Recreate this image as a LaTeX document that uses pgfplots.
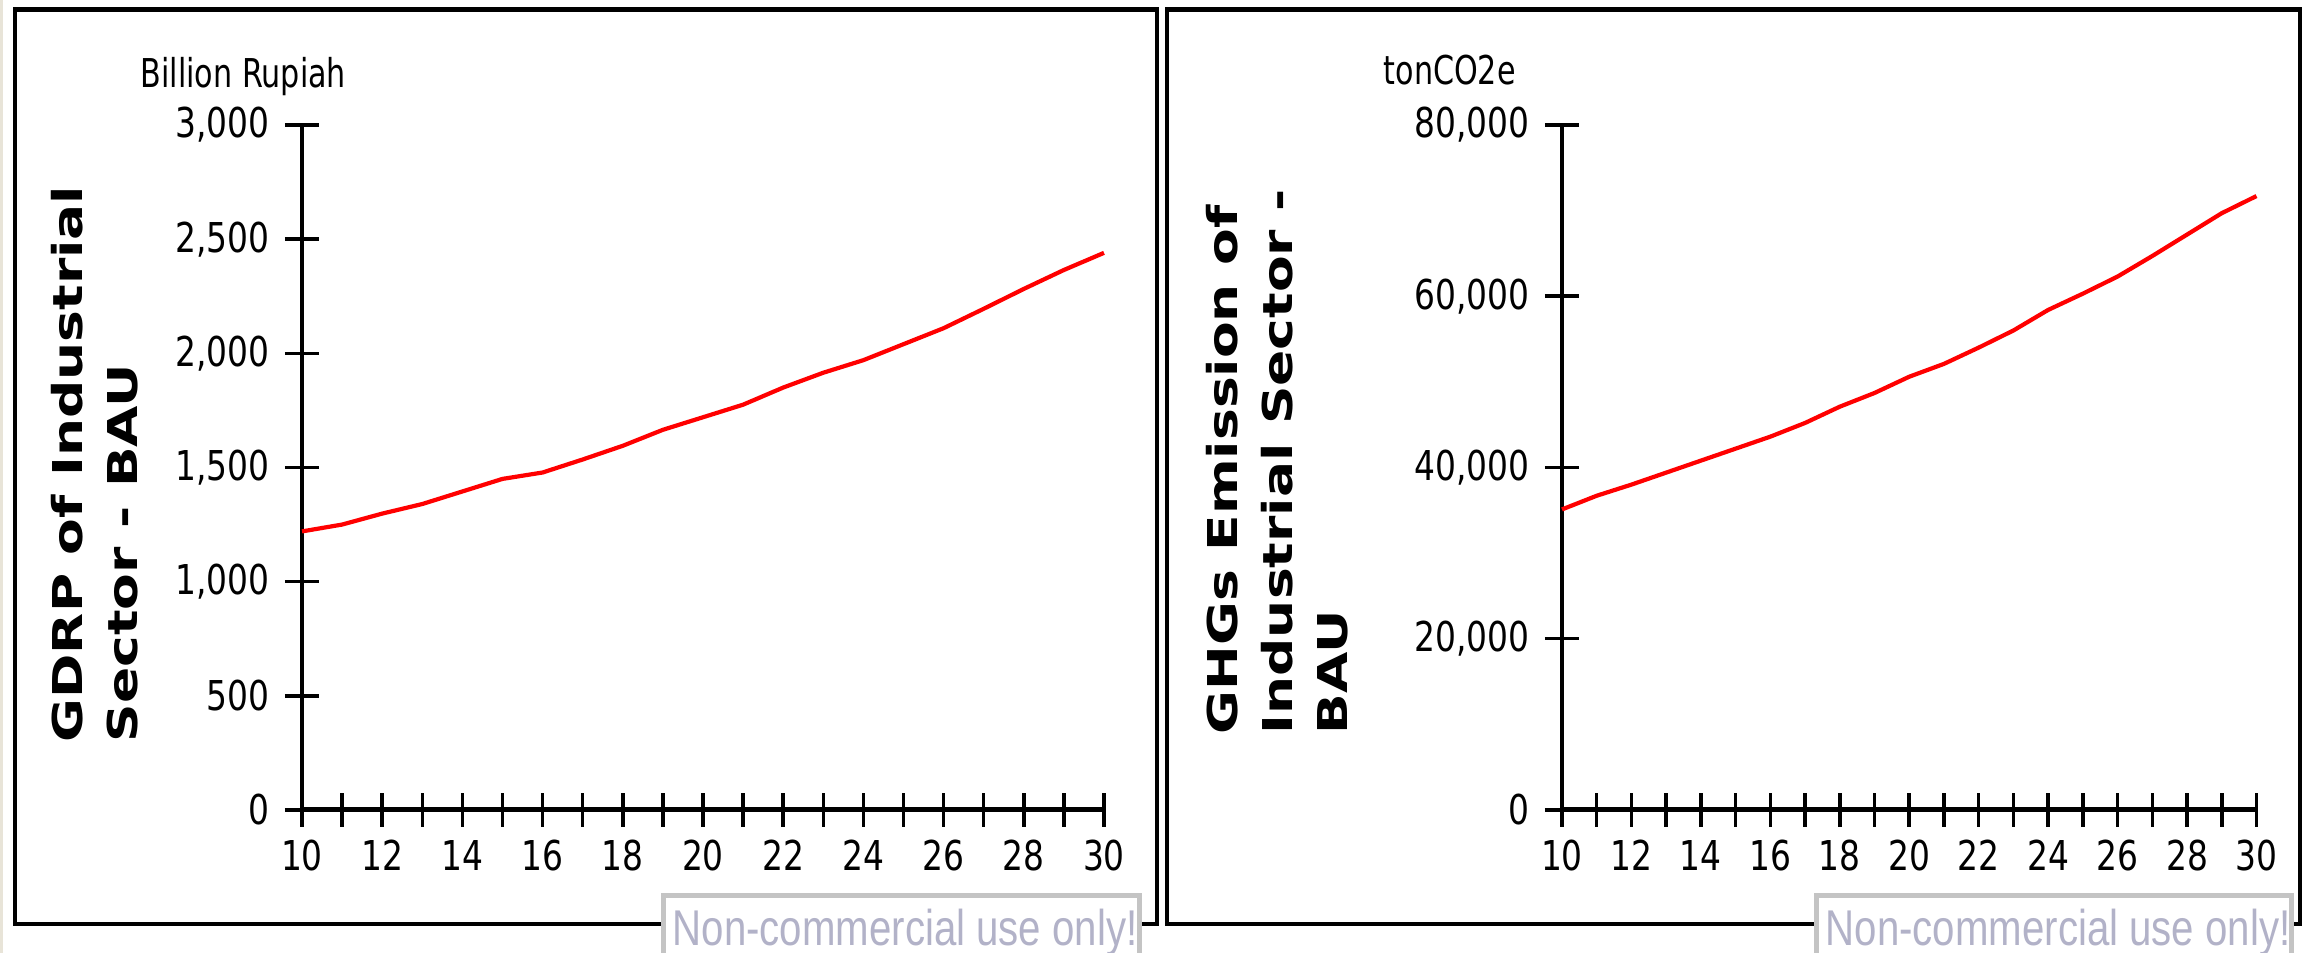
\documentclass[border=0pt]{standalone}
\usepackage{fontspec}
\setmainfont{DejaVu Sans}
\newfontfamily\tickfont[FakeStretch=0.8]{DejaVu Sans}
\newfontfamily\unitfont[FakeStretch=0.76]{DejaVu Sans}
\newfontfamily\narrowfont[FakeStretch=0.8]{Liberation Sans}
\newfontfamily\labfont[FakeStretch=1.3]{DejaVu Sans}
\usepackage{pgfplots}
\pgfplotsset{compat=1.18}
\usepackage{pgfplotstable}

\pgfplotstableread{
year gdrp
10 1220
11 1250
12 1298
13 1340
14 1395
15 1450
16 1478
17 1535
18 1595
19 1665
20 1720
21 1775
22 1850
23 1915
24 1970
25 2040
26 2110
27 2195
28 2282
29 2365
30 2440
}\gdrptable

\pgfplotstableread{
year ghg
10 35100
11 36700
12 38000
13 39400
14 40800
15 42200
16 43600
17 45200
18 47100
19 48700
20 50600
21 52100
22 54000
23 56000
24 58400
25 60300
26 62300
27 64700
28 67200
29 69700
30 71700
}\ghgtable

\definecolor{stripbg}{RGB}{232,228,216}
\definecolor{wmtext}{RGB}{178,178,200}
\definecolor{wmbox}{RGB}{196,196,196}

\pgfplotsset{
  panelaxis/.style={
    scale only axis,
    anchor=south west,
    axis x line=bottom,
    axis y line=left,
    axis line style={-},
    x axis line style={line width=0.5mm},
    y axis line style={line width=0.4mm},
    xmin=10, xmax=30, ymin=0,
    enlargelimits=false,
    clip=false,
    xtick={10,12,...,30},
    minor xtick={11,13,...,29},
    tick align=center,
    major tick length=3.4mm,
    minor tick length=3.4mm,
    every tick/.style={black, line width=0.35mm},
    tick label style={font=\tickfont\fontsize{11.7}{14}\selectfont, text=black},
    /pgf/number format/assume math mode=true,
    /pgf/number format/1000 sep={,},
    yticklabel style={xshift=-0.3mm},
    xticklabel style={yshift=-0.1mm},
    scaled y ticks=false,
  }
}

\begin{document}
\begin{tikzpicture}
\begin{scope}[x=0.1mm,y=0.1mm]
\useasboundingbox (0,0) rectangle (2306,953);
\fill[white] (0,0) rectangle (2306,953);
\fill[stripbg] (0,0) rectangle (3,953);
\draw[black, line width=0.44mm] (15,29) rectangle (1157,943.5);
\draw[black, line width=0.44mm] (1167,29) rectangle (2300,943.5);
\end{scope}

% left panel
\begin{axis}[panelaxis,
  at={(30.2mm,14.3mm)},
  width=80.2mm, height=68.5mm,
  ymax=3000, ytick={0,500,...,3000}]
\addplot[red, line width=0.42mm] table[x=year, y=gdrp] {\gdrptable};
\end{axis}

% right panel
\begin{axis}[panelaxis,
  at={(156.2mm,14.3mm)},
  width=69.45mm, height=68.5mm,
  ymax=80000, ytick={0,20000,...,80000}]
\addplot[red, line width=0.42mm] table[x=year, y=ghg] {\ghgtable};
\end{axis}

\begin{scope}[x=0.1mm,y=0.1mm]
% unit labels
\node[anchor=base west, inner sep=0, font=\unitfont\fontsize{11.3}{14}\selectfont] at (140,865) {Billion Rupiah};
\node[anchor=base west, inner sep=0, font=\unitfont\fontsize{11.3}{14}\selectfont] at (1383,868) {tonCO2e};
% axis titles (anchor = baseline of the last line)
\node[rotate=90, anchor=base west, inner sep=0, align=left,
  font=\labfont\bfseries\fontsize{11.7}{15.6}\selectfont] at (137,210)
  {GDRP of Industrial\\Sector - BAU};
\node[rotate=90, anchor=base west, inner sep=0, align=left,
  font=\labfont\bfseries\fontsize{11.7}{15.6}\selectfont] at (1347,218)
  {GHGs Emission of\\Industrial Sector -\\BAU};
% watermark boxes
\begin{scope}
\clip (0,0) rectangle (2306,953);
\filldraw[fill=white, draw=wmbox, line width=0.5mm] (663,-20) rectangle (1139,57);
\filldraw[fill=white, draw=wmbox, line width=0.5mm] (1816,-20) rectangle (2291,57);
\node[anchor=base west, inner sep=0, text=wmtext, font=\narrowfont\fontsize{14.3}{16}\selectfont] at (672,7) {Non-commercial use only!};
\node[anchor=base west, inner sep=0, text=wmtext, font=\narrowfont\fontsize{14.3}{16}\selectfont] at (1825,7) {Non-commercial use only!};
\end{scope}
\end{scope}
\end{tikzpicture}
\end{document}
